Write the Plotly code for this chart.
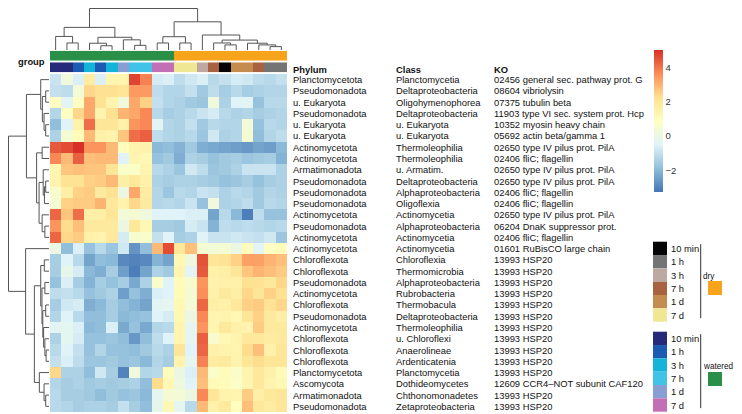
import plotly.graph_objects as go

# The page body adds an 8 px margin, so the figure is sized to the remaining window
# and every layout position below is given in window pixels and converted.
WIN_W, WIN_H = 742, 414
OX, OY = 8, 8
W, H = WIN_W - OX, WIN_H - OY

phylum = ["Planctomycetota", "Pseudomonadota", "u. Eukaryota", "Pseudomonadota", "u. Eukaryota",
          "u. Eukaryota", "Actinomycetota", "Actinomycetota", "Armatimonadota", "Pseudomonadota",
          "Pseudomonadota", "Pseudomonadota", "Actinomycetota", "Pseudomonadota", "Actinomycetota",
          "Actinomycetota", "Chloroflexota", "Chloroflexota", "Pseudomonadota", "Actinomycetota",
          "Chloroflexota", "Pseudomonadota", "Actinomycetota", "Chloroflexota", "Chloroflexota",
          "Chloroflexota", "Planctomycetota", "Ascomycota", "Armatimonadota", "Pseudomonadota"]
klass = ["Planctomycetia", "Deltaproteobacteria", "Oligohymenophorea", "Deltaproteobacteria", "u. Eukaryota",
         "u. Eukaryota", "Thermoleophilia", "Thermoleophilia", "u. Armatim.", "Deltaproteobacteria",
         "Alphaproteobacteria", "Oligoflexia", "Actinomycetia", "Alphaproteobacteria", "Actinomycetia",
         "Actinomycetia", "Chloroflexia", "Thermomicrobia", "Alphaproteobacteria", "Rubrobacteria",
         "Thermobacula", "Deltaproteobacteria", "Thermoleophilia", "u. Chloroflexi", "Anaerolineae",
         "Ardenticatenia", "Planctomycetia", "Dothideomycetes", "Chthonomonadetes", "Zetaproteobacteria"]
ko = ["02456 general sec. pathway prot. G", "08604 vibriolysin", "07375 tubulin beta",
      "11903 type VI sec. system prot. Hcp", "10352 myosin heavy chain", "05692 actin beta/gamma 1",
      "02650 type IV pilus prot. PilA", "02406 fliC; flagellin", "02650 type IV pilus prot. PilA",
      "02650 type IV pilus prot. PilA", "02406 fliC; flagellin", "02406 fliC; flagellin",
      "02650 type IV pilus prot. PilA", "06204 DnaK suppressor prot.", "02406 fliC; flagellin",
      "01601 RuBisCO large chain", "13993 HSP20", "13993 HSP20", "13993 HSP20", "13993 HSP20",
      "13993 HSP20", "13993 HSP20", "13993 HSP20", "13993 HSP20", "13993 HSP20", "13993 HSP20",
      "13993 HSP20", "12609 CCR4\u2013NOT subunit CAF120", "13993 HSP20", "13993 HSP20"]

col_group = ["watered"] * 11 + ["dry"] * 10
col_time = ["10 min", "10 min", "1 h", "3 h", "1 h", "3 h", "1 d", "7 h", "7 h", "7 d", "7 d",
            "7 d", "7 d", "3 h", "7 h", "10 min", "1 d", "1 d", "7 h", "1 h", "1 h"]

time_levels = ["10 min", "1 h", "3 h", "7 h", "1 d", "7 d"]
dry_colors = ["#050505", "#747474", "#bba9a2", "#a9623f", "#c48d4f", "#efe793"]
watered_colors = ["#262a78", "#1b5cb2", "#14b4d8", "#40c3e6", "#8a9ed6", "#c26fb5"]
group_levels = ["watered", "dry"]
group_colors = ["#2a9048", "#f7a31c"]

heat_colors = ["#4575B4", "#91BFDB", "#E0F3F8", "#FFFFBF", "#FEE090", "#FC8D59", "#D73027"]
zmin, zmax = -3.26, 5.0
cbar_ticks = [-2, 0, 2, 4]

values = [
    [-0.9, 0.2, -0.6, 1.7, -0.6, 1.3, 1.3, 4.7, 3.8, -0.7, -0.6, -1.1, -0.8, -0.6, -1.2, -1.0, -0.7, -0.8, -1.1, -1.2, -1.0],
    [-1.0, -1.1, 0.3, 2.4, 2.2, 2.2, 2.0, 3.4, 3.4, -1.1, -1.3, -1.3, -1.0, -1.6, -1.1, -1.5, -1.2, -1.5, -1.4, -1.3, -1.3],
    [0.9, -0.4, 0.8, 3.2, 2.1, 1.4, 0.2, 3.2, 2.5, -1.0, -1.3, -1.4, -1.6, -1.7, 0.2, -1.4, -0.5, -0.4, -1.8, -1.2, -1.2],
    [-1.3, 0.8, 2.4, 3.2, 1.3, 2.2, 3.0, 3.2, 3.7, -1.2, -1.5, -1.4, -1.2, -0.9, -0.7, -1.2, -1.4, -1.3, -1.5, -1.4, -1.3],
    [-1.9, -0.5, 1.5, 4.1, 2.0, 2.0, 1.5, 3.5, 3.7, -0.4, -1.3, -1.4, -1.0, -1.6, -1.2, -1.3, -1.3, 0.3, -1.8, -1.2, -1.3],
    [-1.4, 0.4, 1.0, 2.9, 1.5, 1.4, 2.7, 4.1, 4.3, -1.1, -1.3, -1.4, -1.2, -1.7, -0.8, -1.4, -1.3, 0.4, -1.9, -1.3, -1.1],
    [4.4, 4.6, 5.0, 3.5, 3.5, 2.9, 0.9, 1.4, 1.4, -2.0, -1.9, -2.1, -1.6, -2.2, -2.3, -2.4, -2.5, -2.6, -2.4, -2.5, -2.0],
    [3.7, 2.9, 4.3, 2.8, 2.9, 2.9, -0.5, 1.3, 1.2, -1.8, -1.6, -2.2, -1.4, -1.5, -1.8, -1.6, -1.5, -1.7, -1.6, -1.5, -2.1],
    [1.3, 2.7, 2.8, 2.7, 2.7, 2.0, 0.6, 0.7, 1.3, -1.2, -1.4, -1.7, -0.8, -1.1, -1.7, -1.6, -1.4, -0.9, -0.9, -0.9, -1.4],
    [1.4, 2.1, 2.1, 2.5, 2.6, 2.9, 1.6, 1.9, 1.5, -1.4, -1.5, -1.4, -1.4, -1.5, -1.6, -1.8, -1.7, -1.5, -1.8, -1.5, -1.4],
    [0.5, 1.6, 2.5, 2.6, 1.8, 2.1, 0.0, 3.2, 1.7, -1.3, -1.7, -1.2, -1.3, -0.9, -1.0, -1.4, -1.2, -1.3, -1.6, -1.3, -1.4],
    [0.4, 2.5, 2.6, 2.6, 3.0, 1.9, 1.4, 2.4, 1.8, -1.3, -1.2, -1.3, -0.9, -1.8, 0.2, -1.4, -1.3, -1.1, -1.6, -1.2, -1.3],
    [4.2, 2.7, 4.1, 1.6, 1.6, 2.0, 0.3, 0.4, 0.2, -0.5, -0.5, -0.5, -0.6, -0.6, -2.4, -1.2, -2.0, -3.1, -1.1, -1.8, -1.8],
    [3.5, 2.3, 2.8, 1.8, 1.8, 1.8, 0.0, 1.9, 1.2, -1.5, -1.5, -1.6, -0.7, -0.9, -2.1, -1.1, -1.2, -1.1, -1.2, -1.3, -1.2],
    [4.2, 2.4, 2.6, 1.5, 1.4, 1.8, -0.7, 0.5, 0.6, -1.0, -0.5, -1.5, -1.4, -0.5, -0.9, -0.9, -0.8, -0.9, -1.0, -0.8, -1.7],
    [0.0, -1.9, -0.6, -1.8, -1.2, -1.7, -0.8, -2.7, -1.9, 2.9, 4.6, 1.9, 2.8, 0.4, 0.3, 0.4, 0.0, 1.0, -0.4, 0.8, 1.0],
    [-1.5, -0.5, -1.2, -2.4, -1.9, -2.0, -2.9, -3.0, -2.9, -2.1, -2.4, 1.2, 0.1, 4.5, 2.0, 2.1, 2.5, 3.3, 3.3, 3.0, 2.8],
    [-1.5, -0.2, -0.7, -2.0, -2.2, -1.5, -2.5, -3.1, -2.4, -1.4, -1.6, 1.3, -0.4, 4.4, 1.5, 1.6, 2.0, 2.7, 3.0, 2.8, 2.6],
    [-1.8, -0.6, -1.5, -2.1, -1.5, -1.8, -1.5, -2.3, -1.4, 0.6, -0.5, 1.0, 0.5, 3.5, 1.4, 1.5, 1.5, 2.2, 2.1, 1.9, 2.4],
    [-1.1, -1.0, -1.2, -1.8, -1.6, -1.4, -2.5, -1.8, -2.2, -0.6, -0.5, 1.1, 0.4, 3.6, 1.5, 1.8, 1.6, 2.4, 2.0, 2.5, 2.2],
    [-1.5, -0.8, -0.7, -2.2, -2.0, -1.5, -1.9, -2.1, -2.4, -0.4, -0.3, 1.2, 0.3, 4.2, 1.6, 1.5, 1.9, 2.5, 2.6, 2.1, 2.4],
    [-1.3, -0.5, -1.2, -1.9, -1.9, -1.5, -2.0, -1.9, -1.8, -0.5, -0.7, 1.2, 0.0, 3.7, 1.3, 1.4, 1.2, 2.0, 2.5, 1.8, 1.6],
    [-0.4, -0.3, -0.6, -2.0, -1.9, -0.6, -2.3, -1.8, -2.3, -1.3, -1.2, 1.3, -0.3, 3.5, 1.3, 1.9, 1.5, 1.4, 2.6, 1.8, 1.8],
    [-1.4, -0.3, -0.7, -1.8, -1.8, -1.7, -1.9, -2.6, -1.9, -1.1, -0.5, 1.3, -0.3, 4.3, 0.5, 1.2, 1.4, 1.9, 1.9, 1.7, 1.8],
    [-1.2, -0.5, -1.0, -1.8, -1.3, -1.8, -1.8, -1.9, -1.6, -1.2, -1.4, 2.0, -0.5, 4.2, 1.5, 1.4, 1.3, 2.3, 2.8, 1.5, 2.0],
    [-1.0, -0.6, -1.1, -1.7, -1.7, -1.6, -1.8, -1.7, -2.0, -1.3, -1.5, 1.4, -0.3, 3.8, 1.7, 1.8, 1.4, 2.0, 2.3, 2.0, 2.0],
    [2.4, -1.4, -1.4, -1.9, -0.8, -1.5, -3.0, 0.2, -1.3, -1.2, 1.0, 0.0, -0.6, 2.9, 0.6, 1.0, 0.6, 1.3, 1.9, 1.5, 1.1],
    [-1.3, -1.5, -1.4, -1.6, -1.5, -1.6, -1.5, -1.4, -1.9, 2.3, 1.2, 0.1, -0.5, 2.8, 1.1, 1.0, 0.7, 1.3, 1.9, 1.4, 1.2],
    [-1.2, -1.5, -1.5, -1.6, -1.9, -1.6, -1.8, -1.7, -2.0, -0.3, 0.4, 0.3, 0.0, 3.7, 2.0, 1.4, 1.3, 2.6, 1.6, 1.9, 2.0],
    [-1.2, -1.3, -1.5, -1.4, -1.4, -1.5, -1.0, -1.5, -1.9, -0.2, 1.2, -0.3, -1.2, 2.9, 1.5, 1.8, 0.9, 2.8, 1.9, 1.7, 2.0],
]

# Clustering trees: (left, right, merge height); leaves are row / column indices
row_tree = (
    ((0, ((1, 2, 4), (3, (4, 5, 4), 6), 8), 10),
     ((6, 7, 8.3), ((8, ((9, 10, 4), 11, 5.5), 7), (12, (13, 14, 5), 8.3), 12), 15), 27.3),
    (15, (((16, 17, 5.7), ((18, 19, 5), ((20, 21, 4), (22, (23, (24, 25, 3.5), 5), 6.5), 7.5), 8.5), 10),
          (26, (27, (28, 29, 4), 6), 11.7), 17.7), 28.3),
    49)
col_tree = (
    ((0, (1, 2, 8.3), 16), ((3, (4, 5, 5), 8), (6, (7, 8, 5.5), 12), 15), 26.7),
    (((9, 10, 8.3), (11, 12, 8.3), 15.7),
     (13, ((14, (15, 16, 6), 8.3), (17, (18, (19, 20, 4), 6), 8), 11.7), 17.7), 33.3),
    49)


def dendro_lines(tree):
    pos, hts = [], []

    def rec(node):
        if isinstance(node, int):
            return float(node), 0.0
        left, right, h = node
        pl, hl = rec(left)
        pr, hr = rec(right)
        pos.extend([pl, pl, pr, pr, None])
        hts.extend([hl, h, h, hr, None])
        return (pl + pr) / 2.0, h

    rec(tree)
    return pos, hts


def px(x):
    return (x - OX) / W


def py(y):
    return 1 - (y - OY) / H


def discrete_scale(colors):
    n = len(colors)
    cs = []
    for i, c in enumerate(colors):
        cs.append([i / n, c])
        cs.append([(i + 1) / n, c])
    return cs


FONT = "Liberation Sans, Arial, Helvetica, sans-serif"
TXT = "#111111"
n_rows = len(values)
n_cols = len(values[0])

fig = go.Figure()

hscale = [[i / (len(heat_colors) - 1), c] for i, c in enumerate(heat_colors)]
fig.add_trace(go.Heatmap(
    z=values, x=list(range(n_cols)), y=list(range(n_rows)),
    colorscale=hscale, zmin=zmin, zmax=zmax, xaxis="x", yaxis="y",
    hoverinfo="skip",
    colorbar=dict(thickness=9, thicknessmode="pixels", len=142, lenmode="pixels",
                  x=px(654), xanchor="left", y=py(50), yanchor="top",
                  xpad=0, ypad=0, outlinewidth=0, borderwidth=0,
                  tickvals=cbar_ticks, ticks="", tickfont=dict(family=FONT, size=9.5, color="#333333")),
))

group_codes = [[group_levels.index(g) for g in col_group]]
fig.add_trace(go.Heatmap(
    z=group_codes, x=list(range(n_cols)), y=[0], xaxis="x", yaxis="y2",
    colorscale=discrete_scale(group_colors), zmin=-0.5, zmax=len(group_colors) - 0.5,
    showscale=False, hoverinfo="skip"))

all_time_colors = watered_colors + dry_colors
time_codes = [[(0 if g == "watered" else len(time_levels)) + time_levels.index(t)
               for g, t in zip(col_group, col_time)]]
fig.add_trace(go.Heatmap(
    z=time_codes, x=list(range(n_cols)), y=[0], xaxis="x", yaxis="y3",
    colorscale=discrete_scale(all_time_colors), zmin=-0.5, zmax=len(all_time_colors) - 0.5,
    showscale=False, hoverinfo="skip"))

cpos, chts = dendro_lines(col_tree)
fig.add_trace(go.Scatter(x=cpos, y=chts, mode="lines", xaxis="x", yaxis="y4",
                         line=dict(color="#555555", width=1), hoverinfo="skip", showlegend=False))
rpos, rhts = dendro_lines(row_tree)
fig.add_trace(go.Scatter(x=rhts, y=rpos, mode="lines", xaxis="x2", yaxis="y",
                         line=dict(color="#555555", width=1), hoverinfo="skip", showlegend=False))

ax_common = dict(visible=False, showgrid=False, zeroline=False, fixedrange=True)
fig.update_layout(
    width=W, height=H, autosize=False,
    margin=dict(l=0, r=0, t=0, b=0, pad=0),
    paper_bgcolor="white", plot_bgcolor="rgba(0,0,0,0)",
    showlegend=False,
    xaxis=dict(domain=[px(50), px(287)], range=[-0.5, n_cols - 0.5], anchor="y", **ax_common),
    yaxis=dict(domain=[py(412), py(74)], range=[n_rows - 0.5, -0.5], anchor="x", **ax_common),
    yaxis2=dict(domain=[py(60.7), py(50.7)], range=[-0.5, 0.5], anchor="x", **ax_common),
    yaxis3=dict(domain=[py(72.3), py(62.3)], range=[-0.5, 0.5], anchor="x", **ax_common),
    yaxis4=dict(domain=[py(50), py(OY)], range=[0, 49.6], anchor="x", **ax_common),
    xaxis2=dict(domain=[px(OX), px(49)], range=[49.6, 0], anchor="y", **ax_common),
)

annotations = []
label_cols = [(phylum, 290.5), (klass, 394), (ko, 492.3)]
headers = ["Phylum", "Class", "KO"]
for (labels, xpos), head in zip(label_cols, headers):
    annotations.append(dict(text="<b>%s</b>" % head, x=px(xpos), y=py(69.3), xref="paper", yref="paper",
                            xanchor="left", yanchor="middle", showarrow=False,
                            font=dict(family=FONT, size=9.4, color=TXT)))
    for i, lab in enumerate(labels):
        annotations.append(dict(text=lab, x=px(xpos), y=i, xref="paper", yref="y",
                                xanchor="left", yanchor="middle", showarrow=False,
                                font=dict(family=FONT, size=9.4, color=TXT)))

annotations.append(dict(text="<b>group</b>", x=px(47), y=py(61.5), xref="paper", yref="paper",
                        xanchor="right", yanchor="middle", showarrow=False,
                        font=dict(family=FONT, size=9.4, color=TXT)))

shapes = []
sw_h = 13.33
blocks = [("dry", dry_colors, group_colors[1], 241.7, 276.7, 281),
          ("watered", watered_colors, group_colors[0], 331.7, 366.7, 372)]
for name, cols, gcol, y0, ylab, ysw in blocks:
    for i, (lev, c) in enumerate(zip(time_levels, cols)):
        ya = y0 + i * sw_h
        shapes.append(dict(type="rect", xref="paper", yref="paper",
                           x0=px(653), x1=px(667), y0=py(ya), y1=py(ya + sw_h),
                           fillcolor=c, line=dict(width=0)))
        annotations.append(dict(text=lev, x=px(668.5), y=py(ya + sw_h / 2), xref="paper", yref="paper",
                                xanchor="left", yanchor="middle", showarrow=False,
                                font=dict(family=FONT, size=9.4, color=TXT)))
    shapes.append(dict(type="line", xref="paper", yref="paper",
                       x0=px(700.7), x1=px(700.7), y0=py(y0 + 2.5), y1=py(y0 + 6 * sw_h - 3.5),
                       line=dict(color="#333333", width=1)))
    annotations.append(dict(text=name, x=px(701), y=py(ylab), xref="paper", yref="paper",
                            xanchor="left", yanchor="middle", showarrow=False,
                            font=dict(family=FONT, size=8.2, color=TXT)))
    shapes.append(dict(type="rect", xref="paper", yref="paper",
                       x0=px(708), x1=px(722), y0=py(ysw), y1=py(ysw + 14),
                       fillcolor=gcol, line=dict(width=0)))

fig.update_layout(annotations=annotations, shapes=shapes)
fig.write_html("out.html")
